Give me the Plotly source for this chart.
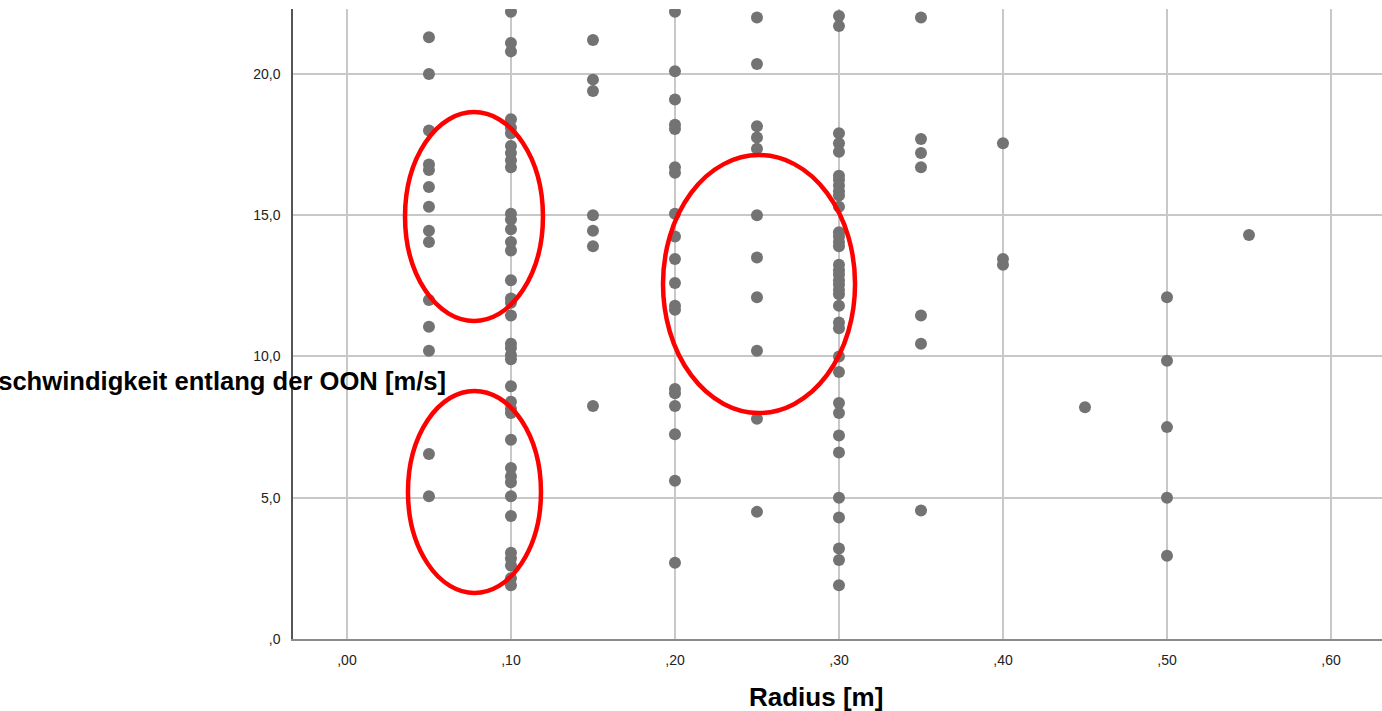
import plotly.graph_objects as go

# Measured flow velocity along the OON per radius
radius_levels = [0.05, 0.10, 0.15, 0.20, 0.25, 0.30, 0.35, 0.40, 0.45, 0.50, 0.55]

v_r005 = [21.3, 20.0, 18.0, 16.8, 16.6, 16.0, 15.3, 14.45, 14.05, 12.0, 11.05, 10.2, 6.55, 5.05]
v_r010 = [22.2, 21.1, 20.8, 18.4, 18.1, 17.9, 17.45, 17.2, 16.95, 16.7, 15.05, 14.85, 14.5,
          14.05, 13.75, 12.7, 12.05, 11.9, 11.45, 10.45, 10.3, 10.05, 9.9, 8.95, 8.4, 8.15,
          8.0, 7.05, 6.05, 5.75, 5.55, 5.05, 4.35, 3.05, 2.85, 2.6, 2.15, 1.9]
v_r015 = [21.2, 19.8, 19.4, 15.0, 14.45, 13.9, 8.25]
v_r020 = [22.2, 20.1, 19.1, 18.2, 18.05, 16.7, 16.5, 15.05, 14.25, 13.45, 12.6, 11.8, 11.65,
          8.85, 8.7, 8.25, 7.25, 5.6, 2.7]
v_r025 = [22.0, 20.35, 18.15, 17.75, 17.35, 15.0, 13.5, 12.1, 10.2, 7.8, 4.5]
v_r030 = [22.05, 21.7, 17.9, 17.55, 17.25, 16.4, 16.25, 16.05, 15.85, 15.7, 15.3, 14.4, 14.25,
          14.05, 13.9, 13.25, 13.05, 12.9, 12.7, 12.55, 12.35, 12.2, 11.8, 11.2, 11.0, 10.0,
          9.45, 8.35, 8.0, 7.2, 6.6, 5.0, 4.3, 3.2, 2.8, 1.9]
v_r035 = [22.0, 17.7, 17.2, 16.7, 11.45, 10.45, 4.55]
v_r040 = [17.55, 13.45, 13.25]
v_r045 = [8.2]
v_r050 = [12.1, 9.85, 7.5, 5.0, 2.95]
v_r055 = [14.3]

velocity_by_radius = [v_r005, v_r010, v_r015, v_r020, v_r025, v_r030,
                      v_r035, v_r040, v_r045, v_r050, v_r055]

x_tickvals = [0.0, 0.1, 0.2, 0.3, 0.4, 0.5, 0.6]
x_ticktext = [",00", ",10", ",20", ",30", ",40", ",50", ",60"]
y_tickvals = [0, 5, 10, 15, 20]
y_ticktext = [",0", "5,0", "10,0", "15,0", "20,0"]

xs, ys = [], []
for r, vals in zip(radius_levels, velocity_by_radius):
    xs.extend([r] * len(vals))
    ys.extend(vals)

FONT = "Arial, 'Liberation Sans', sans-serif"

fig = go.Figure()
fig.add_trace(go.Scatter(
    x=xs, y=ys, mode="markers",
    marker=dict(size=12, color="#737373", line=dict(width=0)),
    cliponaxis=True, showlegend=False,
))

# highlighted regions
ellipses = [
    (0.0354, 11.26, 0.1195, 18.65),
    (0.0372, 1.63, 0.1183, 8.78),
    (0.1927, 8.00, 0.3098, 17.13),
]
for x0, y0, x1, y1 in ellipses:
    fig.add_shape(type="circle", xref="x", yref="y", x0=x0, y0=y0, x1=x1, y1=y1,
                  line=dict(color="#ff0000", width=4.5), layer="above")

fig.add_annotation(text="<b>Geschwindigkeit entlang der OON [m/s]</b>",
                   xref="paper", yref="paper", x=0.1425, y=0.4095,
                   xanchor="right", yanchor="middle", showarrow=False,
                   font=dict(family=FONT, size=25.6, color="#000000"))
fig.add_annotation(text="<b>Radius [m]</b>",
                   xref="paper", yref="paper", x=0.4803, y=-0.092,
                   xanchor="center", yanchor="middle", showarrow=False,
                   font=dict(family=FONT, size=26, color="#000000"))

fig.update_layout(
    width=1382, height=711,
    margin=dict(l=293, r=0, t=9, b=72),
    paper_bgcolor="white", plot_bgcolor="white",
    font=dict(family=FONT, size=14, color="#222222"),
    xaxis=dict(range=[-0.0329, 0.6311], tickvals=x_tickvals, ticktext=x_ticktext,
               showgrid=True, gridcolor="#c8c8c8", gridwidth=1.5, zeroline=False,
               showline=True, linecolor="#8a8a8a", linewidth=2, ticks="",
               ticklabelstandoff=7, tickfont=dict(size=14, color="#222222")),
    yaxis=dict(range=[0, 22.3], tickvals=y_tickvals, ticktext=y_ticktext,
               showgrid=True, gridcolor="#c8c8c8", gridwidth=1.5, zeroline=False,
               showline=True, linecolor="#555555", linewidth=1.5, ticks="",
               ticklabelstandoff=8, tickfont=dict(size=14, color="#222222")),
)

fig.write_html("out.html")
